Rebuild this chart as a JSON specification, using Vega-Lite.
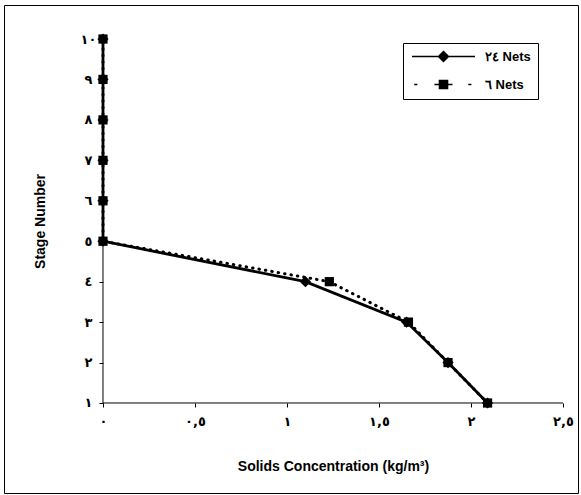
{
  "$schema": "https://vega.github.io/schema/vega-lite/v6.json",
  "width": 574,
  "height": 488,
  "padding": {"left": 4, "top": 5, "right": 3, "bottom": 2},
  "background": "white",
  "config": {
    "view": {"stroke": "black", "strokeWidth": 1},
    "axis": {"grid": false, "domain": false, "tickColor": "black", "tickSize": 4, "tickWidth": 1, "labelColor": "black", "titleColor": "black"}
  },
  "data": {"values": [
    {"series": "٦ Nets", "stage": 10, "conc": 0},
    {"series": "٦ Nets", "stage": 9, "conc": 0},
    {"series": "٦ Nets", "stage": 8, "conc": 0},
    {"series": "٦ Nets", "stage": 7, "conc": 0},
    {"series": "٦ Nets", "stage": 6, "conc": 0},
    {"series": "٦ Nets", "stage": 5, "conc": 0},
    {"series": "٦ Nets", "stage": 4, "conc": 1.23},
    {"series": "٦ Nets", "stage": 3, "conc": 1.66},
    {"series": "٦ Nets", "stage": 2, "conc": 1.875},
    {"series": "٦ Nets", "stage": 1, "conc": 2.09},
    {"series": "٢٤ Nets", "stage": 10, "conc": 0},
    {"series": "٢٤ Nets", "stage": 9, "conc": 0},
    {"series": "٢٤ Nets", "stage": 8, "conc": 0},
    {"series": "٢٤ Nets", "stage": 7, "conc": 0},
    {"series": "٢٤ Nets", "stage": 6, "conc": 0},
    {"series": "٢٤ Nets", "stage": 5, "conc": 0},
    {"series": "٢٤ Nets", "stage": 4, "conc": 1.1},
    {"series": "٢٤ Nets", "stage": 3, "conc": 1.65},
    {"series": "٢٤ Nets", "stage": 2, "conc": 1.875},
    {"series": "٢٤ Nets", "stage": 1, "conc": 2.09}
  ]},
  "layer": [
    {
      "data": {"values": [{}]},
      "mark": {"type": "rule", "color": "black", "strokeWidth": 1},
      "encoding": {
        "x": {"datum": 0, "type": "quantitative", "scale": {"domain": [-0.538, 2.5815], "nice": false, "zero": false},
          "axis": {"orient": "bottom", "offset": -90, "values": [0, 0.5, 1, 1.5, 2, 2.5],
            "labelExpr": "datum.value == 0 ? '٠' : datum.value == 0.5 ? '٠,٥' : datum.value == 1 ? '١' : datum.value == 1.5 ? '١,٥' : datum.value == 2 ? '٢' : '٢,٥'",
            "labelFont": "DejaVu Sans", "labelFontWeight": "bold", "labelFontSize": 13, "labelPadding": 8,
            "title": "Solids Concentration (kg/m³)", "titleFont": "Liberation Sans", "titleFontWeight": "bold", "titleFontSize": 14,
            "titleX": 329, "titleY": 63, "titleAlign": "center", "titleBaseline": "middle"}},
        "x2": {"datum": 2.5},
        "y": {"datum": 1, "type": "quantitative", "scale": {"domain": [-1.2253, 10.8407], "nice": false, "zero": false},
          "axis": {"orient": "left", "offset": -99, "values": [1, 2, 3, 4, 5, 6, 7, 8, 9, 10],
            "labelExpr": "['', '١','٢','٣','٤','٥','٦','٧','٨','٩','١٠'][datum.value]",
            "labelFont": "DejaVu Sans", "labelFontWeight": "bold", "labelFontSize": 13, "labelPadding": 11, "labelAlign": "center",
            "title": "Stage Number", "titleFont": "Liberation Sans", "titleFontWeight": "bold", "titleFontSize": 14,
            "titleX": -63, "titleY": 216, "titleAlign": "center", "titleBaseline": "middle", "titleAngle": -90}}
      }
    },
    {
      "data": {"values": [{}]},
      "mark": {"type": "rule", "color": "black", "strokeWidth": 1},
      "encoding": {
        "x": {"datum": 0, "type": "quantitative"},
        "y": {"datum": 1, "type": "quantitative"},
        "y2": {"datum": 10}
      }
    },
    {
      "transform": [{"filter": "datum.series == '٦ Nets'"}],
      "mark": {"type": "line", "color": "black", "strokeWidth": 3, "strokeCap": "round", "strokeDash": [0.5, 6]},
      "encoding": {
        "x": {"field": "conc", "type": "quantitative"},
        "y": {"field": "stage", "type": "quantitative"},
        "order": {"field": "stage"}
      }
    },
    {
      "transform": [{"filter": "datum.series == '٦ Nets'"}],
      "mark": {"type": "point", "shape": "square", "filled": true, "color": "black", "opacity": 1, "size": 85},
      "encoding": {
        "x": {"field": "conc", "type": "quantitative"},
        "y": {"field": "stage", "type": "quantitative"}
      }
    },
    {
      "transform": [{"filter": "datum.series == '٢٤ Nets'"}],
      "mark": {"type": "line", "color": "black", "strokeWidth": 2.8},
      "encoding": {
        "x": {"field": "conc", "type": "quantitative"},
        "y": {"field": "stage", "type": "quantitative"},
        "order": {"field": "stage"}
      }
    },
    {
      "transform": [{"filter": "datum.series == '٢٤ Nets'"}],
      "mark": {"type": "point", "shape": "diamond", "filled": true, "color": "black", "opacity": 1, "size": 125},
      "encoding": {
        "x": {"field": "conc", "type": "quantitative"},
        "y": {"field": "stage", "type": "quantitative"}
      }
    },
    {
      "transform": [{"filter": "false"}],
      "mark": {"type": "point", "filled": true, "fill": "black", "stroke": "black", "strokeWidth": 2.5, "opacity": 1},
      "encoding": {
        "x": {"field": "conc", "type": "quantitative"},
        "y": {"field": "stage", "type": "quantitative"},
        "shape": {"field": "series", "type": "nominal",
          "scale": {"domain": ["٢٤ Nets", "٦ Nets"], "range": [
            "M-1,0L13,0M6,-1.1L7.1,0L6,1.1L4.9,0Z",
            "M-0.5,0L0.2,0M4,0L5.2,0M6.8,0L8,0M11.5,0L12.2,0M5.1,-0.9L6.9,-0.9L6.9,0.9L5.1,0.9Z"
          ]},
          "legend": {"orient": "none", "legendX": 399, "legendY": 38, "title": null,
            "strokeColor": "black", "fillColor": "white", "padding": 7,
            "symbolSize": 81,
            "labelFont": "Liberation Sans", "labelFontWeight": "bold", "labelFontSize": 13, "labelColor": "black",
            "labelOffset": 62, "rowPadding": 12,
            "encode": {"symbols": {"update": {
              "fill": {"value": "black"}, "stroke": {"value": "black"},
              "strokeWidth": {"value": 2.5}, "opacity": {"value": 1}, "fillOpacity": {"value": 1}, "strokeOpacity": {"value": 1}}}}}}
      }
    }
  ]
}
